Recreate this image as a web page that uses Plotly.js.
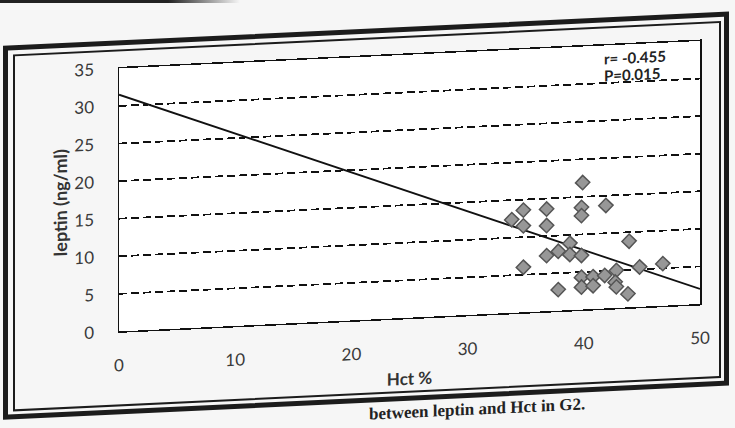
<!DOCTYPE html>
<html><head><meta charset="utf-8">
<script src="https://cdn.plot.ly/plotly-3.0.1.min.js"></script>
<style>
html,body{margin:0;padding:0;background:#f6f6f6;width:735px;height:428px;overflow:hidden;}
#wrap{position:absolute;left:0;top:0;width:735px;height:428px;transform:skewY(-2.7deg);transform-origin:0 0;}
#chart{position:absolute;left:0;top:0;width:735px;height:428px;}
.fo{position:absolute;left:3px;top:46px;width:726px;height:374px;border:5px solid #1c1c1c;box-sizing:border-box;pointer-events:none;}
.fi{position:absolute;left:13px;top:55px;width:708px;height:357px;border:2px solid #1c1c1c;box-sizing:border-box;pointer-events:none;}
#cap{position:absolute;left:369px;top:423px;line-height:18px;font-family:'Liberation Serif',serif;font-weight:bold;font-size:17px;color:#222;white-space:nowrap;}
#edge{position:absolute;left:0;top:0;width:240px;height:3px;background:linear-gradient(to right,#222,#222 70%,rgba(34,34,34,0));}
</style></head>
<body>
<div id="edge"></div>
<div id="wrap">
<div id="chart"></div>
<div class="fo"></div>
<div class="fi"></div>
<div id="cap">between leptin and Hct in G2.</div>
</div>
<script>
const hct = [39.9, 34.8, 36.8, 39.8, 39.8, 41.9, 33.8, 34.8, 36.8, 43.9,
             38.8, 36.8, 37.8, 38.8, 39.8, 34.8, 44.8, 46.8, 39.8, 40.8,
             41.8, 42.8, 39.8, 40.8, 42.7, 42.8, 43.8, 37.8];
const leptin = [16.9, 13.6, 13.6, 13.6, 12.5, 13.7, 12.4, 11.5, 11.4, 8.8,
                8.9, 7.4, 7.9, 7.4, 7.2, 6.0, 5.3, 5.6, 4.3, 4.3,
                4.4, 5.0, 3.0, 3.1, 3.45, 2.8, 1.8, 2.8];
const trendX = [0, 50];
const trendY = [31.5, 2.0];
const xTicks = [0, 10, 20, 30, 40, 50];
const yTicks = [0, 5, 10, 15, 20, 25, 30, 35];
const statR = 'r= -0.455';
const statP = 'P=0.015';

const txt = '#3a3a3a';
const data = [
  {x: trendX, y: trendY, type: 'scatter', mode: 'lines',
   line: {color: '#111', width: 1.8}, hoverinfo: 'skip', showlegend: false},
  {x: hct, y: leptin, type: 'scatter', mode: 'markers',
   marker: {symbol: 'diamond', size: 11, color: '#979797', line: {color: '#555', width: 1.5}},
   showlegend: false}
];
const layout = {
  width: 735, height: 428,
  margin: {l: 119, r: 35, t: 74, b: 91},
  paper_bgcolor: 'rgba(0,0,0,0)', plot_bgcolor: '#ffffff',
  font: {family: 'Lato, sans-serif', color: txt},
  xaxis: {range: [0, 50], tickvals: xTicks, ticks: '', showgrid: false, zeroline: false,
          showline: true, mirror: true, linecolor: '#111', linewidth: 1.5,
          ticklabelstandoff: 18, tickfont: {size: 17, color: txt},
          title: {text: 'Hct %', font: {size: 17, weight: 'bold', color: '#333'}, standoff: 12}},
  yaxis: {range: [0, 35], tickvals: yTicks, ticks: '', showgrid: true, gridcolor: '#111',
          gridwidth: 1.8, griddash: '8px,4px', zeroline: false,
          showline: true, mirror: true, linecolor: '#111', linewidth: 1.5,
          ticklabelstandoff: 20, tickfont: {size: 17, color: txt},
          title: {text: 'leptin (ng/ml)', font: {size: 18, weight: 'bold', color: '#333'}, standoff: 2}},
  annotations: [
    {x: 41.6, y: 33.3, xref: 'x', yref: 'y', text: statR, showarrow: false, xanchor: 'left',
     font: {size: 15, weight: 'bold', color: '#222'}},
    {x: 41.6, y: 31.0, xref: 'x', yref: 'y', text: statP, showarrow: false, xanchor: 'left',
     font: {size: 15, weight: 'bold', color: '#222'}}
  ]
};
Plotly.newPlot('chart', data, layout, {staticPlot: true, displayModeBar: false});
</script>
</body></html>
